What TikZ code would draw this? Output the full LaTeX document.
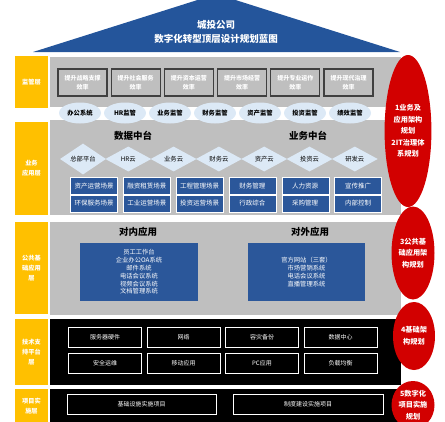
\documentclass[tikz,border=0pt]{standalone}
\usepackage{fontspec}
\setmainfont{Noto Sans CJK SC}
\usepackage{tikz}
\usetikzlibrary{shapes,positioning,calc}
\definecolor{roofblue}{HTML}{24559B}
\definecolor{boxblue}{HTML}{2B579A}
\definecolor{panelgray}{HTML}{BFBFBF}
\definecolor{darkline}{HTML}{404040}
\definecolor{paleblue}{HTML}{DCE9F6}
\definecolor{layeryellow}{HTML}{FFC000}
\definecolor{planred}{HTML}{D20000}

\begin{document}
\begin{tikzpicture}[x=1pt,y=-1pt,
    layer/.style={fill=layeryellow, text=white, align=center, inner sep=0pt, font=\fontsize{6.2}{10}\selectfont\bfseries},
    panel/.style={fill=panelgray, inner sep=0pt, minimum width=351},
    goal/.style={fill=panelgray, draw=darkline, line width=1.2pt, text=white, align=center, minimum width=49, minimum height=27, inner sep=0pt, font=\fontsize{6}{9}\selectfont\bfseries},
    watch/.style={ellipse, fill=paleblue, minimum width=42, minimum height=21, inner sep=0pt, font=\fontsize{6.3}{8}\selectfont\bfseries},
    cloud/.style={diamond, fill=paleblue, minimum width=46, minimum height=25, inner sep=0pt, font=\fontsize{6.3}{8}\selectfont},
    scene/.style={fill=boxblue, draw=white, line width=0.4pt, text=white, minimum width=47, minimum height=17, inner sep=0pt, font=\fontsize{6.5}{8}\selectfont},
    bigbox/.style={fill=boxblue, text=white, align=center, minimum width=118, minimum height=58, inner sep=0pt, font=\fontsize{6.3}{7.8}\selectfont},
    techbox/.style={draw=white, line width=0.8pt, text=white, minimum width=73, minimum height=20, inner sep=0pt, font=\fontsize{6}{8}\selectfont},
    heading/.style={font=\fontsize{9.5}{12}\selectfont\bfseries},
    plan/.style={ellipse, fill=planred, text=white, align=center, inner sep=0pt, font=\fontsize{7.2}{11.5}\selectfont\bfseries}]
    \useasboundingbox (0,0) rectangle (445,421);

    % roof
    \fill[roofblue] (33,52) -- (216.5,-6) -- (400,52) -- cycle;
    \node[text=white, align=center, font=\fontsize{9.5}{14}\selectfont\bfseries] (title) at (216,32) {城投公司\\数字化转型顶层设计规划蓝图};

    % layer labels
    \node[layer, minimum width=33, minimum height=52] (l1) at (31.5,82) {监管层};
    \node[layer, minimum width=33, minimum height=93] (l2) at (31.5,168.5) {业务\\应用层};
    \node[layer, minimum width=33, minimum height=92] (l3) at (31.5,268) {公共基\\础应用\\层};
    \node[layer, minimum width=33, minimum height=66] (l4) at (31.5,352) {技术支\\持平台\\层};
    \node[layer, minimum width=33, minimum height=34] (l5) at (31.5,406) {项目实\\施层};

    % panels
    \node[panel, minimum height=50] (p1) at (225.5,82) {};
    \node[panel, minimum height=95] (p2) at (225.5,167.5) {};
    \node[panel, minimum height=93] (p3) at (225.5,268.5) {};
    \node[panel, fill=black, minimum height=66] (p4) at (225.5,352) {};
    \node[panel, fill=black, minimum height=34] (p5) at (225.5,406) {};

    % supervision
    \foreach \t [count=\i from 0] in {{提升战略支撑\\效率},{提升社会服务\\效率},{提升资本运营\\效率},{提升市场经营\\效率},{提升专业运作\\效率},{提升现代治理\\效率}}
        \node[goal] (goal\i) at (82.5+53.2*\i,82.5) {\t};
    \foreach \t [count=\i from 0] in {办公系统,HR监管,业务监管,财务监管,资产监管,投资监管,绩效监管}
        \node[watch] (watch\i) at (80+45*\i,113) {\t};

    % business platforms
    \node[heading] (data) at (133,136) {数据中台};
    \node[heading] (biz) at (308,136) {业务中台};
    \foreach \t [count=\i from 0] in {总部平台,HR云,业务云,财务云,资产云,投资云,研发云}
        \node[cloud] (cloud\i) at (83+45.3*\i,159) {\t};
    \foreach \t [count=\i from 0] in {资产运营场景,融资租赁场景,工程管理场景,财务管理,人力资源,宣传推广}
        \node[scene] (sa\i) at (94+52.8*\i,186) {\t};
    \foreach \t [count=\i from 0] in {环保服务场景,工业运营场景,投资运营场景,行政综合,采购管理,内部控制}
        \node[scene] (sb\i) at (94+52.8*\i,203.5) {\t};

    % public applications
    \node[heading] (inner) at (138,232) {对内应用};
    \node[heading] (outer) at (310,232) {对外应用};
    \node[bigbox] (innerapps) at (139,272) {员工工作台\\企业办公OA系统\\邮件系统\\电话会议系统\\视频会议系统\\文档管理系统};
    \node[bigbox, minimum width=117] (outerapps) at (306.5,272) {官方网站（三套）\\市场营销系统\\电话会议系统\\直播管理系统};

    % technical platform
    \foreach \t [count=\i from 0] in {服务器硬件,网络,容灾备份,数据中心}
        \node[techbox] (ta\i) at (105+78.5*\i,337) {\t};
    \foreach \t [count=\i from 0] in {安全运维,移动应用,PC应用,负载均衡}
        \node[techbox] (tb\i) at (105+78.5*\i,363.5) {\t};

    % projects
    \node[techbox, minimum width=149] (proj1) at (141.5,404) {基础设施实施项目};
    \node[techbox, minimum width=150] (proj2) at (308,404) {制度建设实施项目};

    % planning ellipses
    \node[plan, minimum width=42, minimum height=152] (plan1) at (408,131) {1业务及\\应用架构\\规划\\2IT治理体\\系规划};
    \node[plan, minimum width=43, minimum height=93] (plan3) at (413,253) {3公共基\\础应用架\\构规划};
    \node[plan, minimum width=42, minimum height=68] (plan4) at (414,336) {4基础架\\构规划};
    \node[plan, minimum width=43, minimum height=48] (plan5) at (413,405) {5数字化\\项目实施\\规划};
\end{tikzpicture}
\end{document}
